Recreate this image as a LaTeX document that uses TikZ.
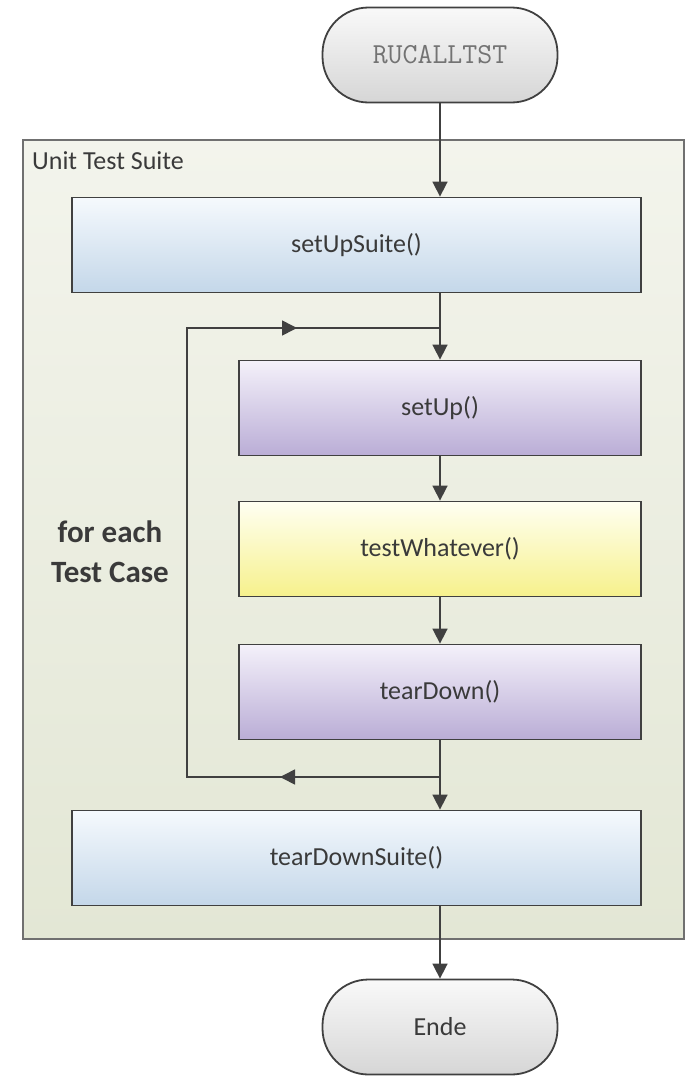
\documentclass[tikz,border=0pt]{standalone}
\usepackage{fontspec}
\setmainfont{Carlito}
\definecolor{linegray}{RGB}{64, 64, 64}
\definecolor{framegray}{RGB}{112, 112, 112}
\definecolor{textgray}{RGB}{58, 58, 58}
\definecolor{suitetop}{RGB}{243, 244, 236}
\definecolor{suitebot}{RGB}{227, 231, 213}
\definecolor{bluetop}{RGB}{245, 249, 253}
\definecolor{bluebot}{RGB}{196, 215, 233}
\definecolor{purptop}{RGB}{244, 241, 250}
\definecolor{purpbot}{RGB}{186, 173, 214}
\definecolor{yeltop}{RGB}{255, 255, 242}
\definecolor{yelbot}{RGB}{246, 241, 140}
\definecolor{termtop}{RGB}{249, 249, 249}
\definecolor{termbot}{RGB}{214, 214, 214}
\usetikzlibrary{arrows.meta, positioning, calc, decorations.markings}

\begin{document}
\begin{tikzpicture}[x=1pt, y=-1pt,
  flow/.style={-{Triangle[length=15pt, width=15pt]}, line width=1.6pt, draw=linegray},
  box/.style={draw=linegray, line width=1.8pt, minimum height=95pt, font=\fontsize{26}{31}\selectfont, text=textgray},
  term/.style={box, rounded corners=46pt, top color=termtop, bottom color=termbot, minimum width=235pt},
  suitebox/.style={box, top color=bluetop, bottom color=bluebot, minimum width=569pt},
  casebox/.style={box, top color=purptop, bottom color=purpbot, minimum width=402pt},
  testbox/.style={box, top color=yeltop, bottom color=yelbot, minimum width=402pt}]
  \useasboundingbox (0,0) rectangle (687,1076);

  % Suite frame
  \node[draw=framegray, line width=1.8pt, top color=suitetop, bottom color=suitebot, minimum width=661pt, minimum height=799pt] (suite) at (353.5, 539.5) {};
  \node[anchor=north west, inner sep=0pt, font=\fontsize{26}{31}\selectfont, text=textgray] (suitelabel) at (32, 151) {Unit Test Suite};

  % Steps
  \node[term, font=\fontsize{29}{33}\selectfont\ttfamily, text=black!55] (start) at (440, 55) {RUCALLTST};
  \node[suitebox] (setupsuite) at (356.5, 245) {setUpSuite()};
  \node[casebox] (setup) at (440, 408) {setUp()};
  \node[testbox] (test) at (440, 549) {testWhatever()};
  \node[casebox] (teardown) at (440, 692) {tearDown()};
  \node[suitebox] (teardownsuite) at (356.5, 858) {tearDownSuite()};
  \node[term] (ende) at (440, 1027) {Ende};

  \draw[flow] (start) -- (start |- setupsuite.north);
  \draw[flow] (setupsuite.south -| setup) -- (setup);
  \draw[flow] (setup) -- (test);
  \draw[flow] (test) -- (teardown);
  \draw[flow] (teardown) -- (teardownsuite.north -| teardown);
  \draw[flow] (teardownsuite.south -| ende) -- (ende);

  % Loop
  \coordinate (looptop) at (440, 328);
  \coordinate (loopbot) at (440, 777);
  \coordinate (lefttop) at (187, 328);
  \coordinate (leftbot) at (187, 777);
  \draw[line width=1.6pt, draw=linegray, postaction={decorate}, decoration={markings,
      mark=at position 160pt with {\arrow{Triangle[length=15pt, width=15pt]}},
      mark=at position 812pt with {\arrow{Triangle[length=15pt, width=15pt]}}}]
    (loopbot) -- (leftbot) -- (lefttop) -- (looptop);
  \node[align=center, font=\fontsize{31}{40}\selectfont\bfseries, text=textgray] (loopnote) at (110, 552) {for each\\Test Case};
\end{tikzpicture}
\end{document}
